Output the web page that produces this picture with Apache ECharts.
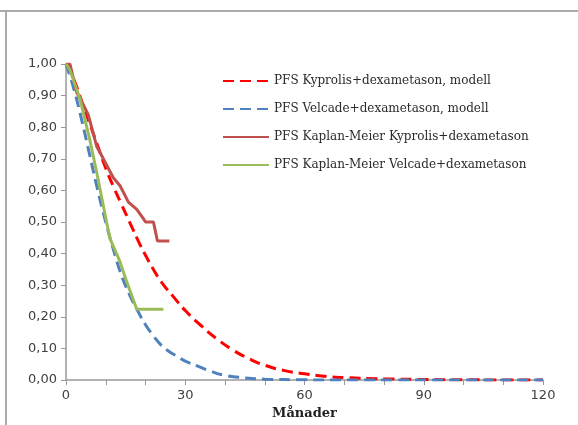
<!DOCTYPE html>
<html>
<head>
	<meta charset="utf-8">
	<title>PFS</title>
	<script src="https://cdn.jsdelivr.net/npm/echarts@6/dist/echarts.min.js"></script>
	<style type="text/css">
	html, body { margin: 0; padding: 0; background: #fff; }
	#chart { width: 578px; height: 425px; }
	</style>
</head>
<body>
	<div id="chart"></div>
	<script>
	// månader + värden
	var kypModelMonths = [0, 2, 4, 6, 8, 10, 12, 14, 16, 18, 20, 22, 24, 27, 30, 34, 38, 42, 46, 50, 55, 60, 65, 70, 80, 90, 100, 110, 120];
	var kypModelValues = [1, 0.95, 0.88, 0.81, 0.74, 0.67, 0.61, 0.555, 0.5, 0.445, 0.395, 0.35, 0.31, 0.264, 0.22, 0.172, 0.13, 0.095, 0.068, 0.047, 0.03, 0.02, 0.012, 0.008, 0.004, 0.002, 0.001, 0.0005, 0];

	var velModelMonths = [0, 2, 4, 6, 8, 10, 12, 14, 16, 18, 20, 22, 24, 26, 28, 30, 33, 36, 40, 45, 50, 60, 70, 120];
	var velModelValues = [1, 0.92, 0.82, 0.71, 0.6, 0.5, 0.41, 0.33, 0.27, 0.22, 0.175, 0.14, 0.11, 0.09, 0.075, 0.06, 0.045, 0.03, 0.015, 0.007, 0.003, 0.001, 0, 0];

	var kypKmMonths = [0, 1, 2.7, 4.4, 5.6, 7.7, 9.4, 11.9, 13.6, 15.7, 17.8, 19.5, 20, 22, 23, 26];
	var kypKmValues = [1, 1, 0.91, 0.87, 0.84, 0.74, 0.7, 0.64, 0.615, 0.563, 0.54, 0.51, 0.5, 0.5, 0.44, 0.44];

	var velKmMonths = [0, 1, 3.5, 6, 8, 10.2, 11.1, 13.6, 15.3, 17.8, 24.5];
	var velKmValues = [1, 0.98, 0.89, 0.76, 0.64, 0.5, 0.447, 0.374, 0.31, 0.224, 0.224];

	var seriesNames = [
		'PFS Kyprolis+dexametason, modell',
		'PFS Velcade+dexametason, modell',
		'PFS Kaplan-Meier Kyprolis+dexametason',
		'PFS Kaplan-Meier Velcade+dexametason'
	];

	function zip(xs, ys) {
		return xs.map(function(x, i) { return [x, ys[i]]; });
	}

	function lineSeries(name, data, color, dashed) {
		return {
			name: name,
			type: 'line',
			symbol: 'none',
			smooth: dashed ? true : false,
			data: data,
			lineStyle: { color: color, width: 3, type: dashed ? [11, 6] : 'solid' },
			itemStyle: { color: color },
			z: dashed ? 2 : 3
		};
	}

	var chart = echarts.init(document.getElementById('chart'));
	chart.setOption({
		animation: false,
		grid: { left: 66, right: 35, top: 64, bottom: 43 },
		legend: {
			orient: 'vertical',
			left: 217,
			top: 70,
			itemWidth: 46,
			itemHeight: 10,
			itemGap: 16,
			data: seriesNames,
			itemStyle: { opacity: 0 },
			textStyle: { fontFamily: 'DejaVu Serif', fontSize: 12, color: '#2a2a2a', padding: [0, 0, 0, 0] }
		},
		xAxis: {
			type: 'value',
			min: 0,
			max: 120,
			interval: 10,
			name: 'Månader',
			nameLocation: 'middle',
			nameGap: 26,
			nameTextStyle: { fontFamily: 'DejaVu Serif', fontWeight: 'bold', fontSize: 13, color: '#222' },
			splitLine: { show: false },
			axisLine: { lineStyle: { color: '#999', width: 1.5 } },
			axisTick: { length: 5, lineStyle: { color: '#999' } },
			axisLabel: {
				color: '#404040',
				fontSize: 13,
				fontFamily: 'DejaVu Sans',
				margin: 9,
				formatter: function(v) { return v % 30 === 0 ? String(v) : ''; }
			}
		},
		yAxis: {
			type: 'value',
			min: 0,
			max: 1,
			interval: 0.1,
			splitLine: { show: false },
			axisLine: { show: true, lineStyle: { color: '#999', width: 1.5 } },
			axisTick: { show: true, length: 5, lineStyle: { color: '#999' } },
			axisLabel: {
				color: '#404040',
				fontSize: 13,
				fontFamily: 'DejaVu Sans',
				margin: 9,
				formatter: function(v) { return v.toFixed(2).replace('.', ','); }
			}
		},
		graphic: [
			{ type: 'line', shape: { x1: 0, y1: 11, x2: 578, y2: 11 }, style: { stroke: '#aaa', lineWidth: 2 } },
			{ type: 'line', shape: { x1: 6, y1: 11, x2: 6, y2: 425 }, style: { stroke: '#aaa', lineWidth: 2 } }
		],
		series: [
			lineSeries(seriesNames[0], zip(kypModelMonths, kypModelValues), '#ff0000', true),
			lineSeries(seriesNames[1], zip(velModelMonths, velModelValues), '#4f81bd', true),
			lineSeries(seriesNames[2], zip(kypKmMonths, kypKmValues), '#c0504d', false),
			lineSeries(seriesNames[3], zip(velKmMonths, velKmValues), '#9bbb59', false)
		]
	});
	</script>
</body>
</html>
